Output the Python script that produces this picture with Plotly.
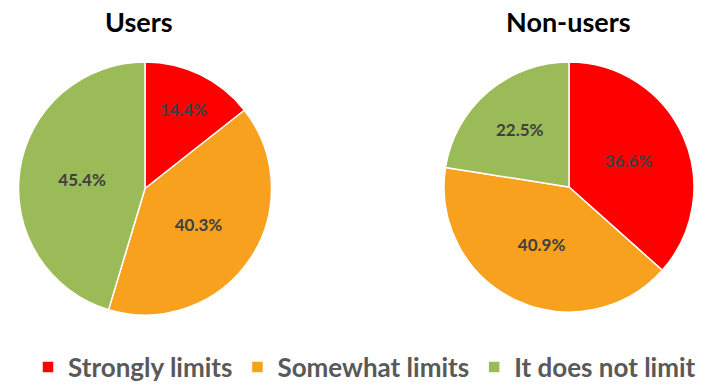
import plotly.graph_objects as go

categories = ["Strongly limits", "Somewhat limits", "It does not limit"]
users_values = [14.4, 40.3, 45.4]
nonusers_values = [36.6, 40.9, 22.5]
titles = ["Users", "Non-users"]
colors = ["#FF0000", "#F7A11F", "#9BBB59"]

W, H = 701, 384
def dom(x0, x1, y0, y1):
    return dict(x=[x0 / W, x1 / W], y=[1 - y1 / H, 1 - y0 / H])

label_font = dict(family="Lato", size=17, color="#404040", weight="bold")

fig = go.Figure()
fig.add_trace(go.Pie(
    labels=categories, values=users_values, sort=False, direction="clockwise",
    rotation=0, marker=dict(colors=colors, line=dict(color="white", width=1.5)),
    texttemplate="%{value:.1f}%", textposition="inside", insidetextorientation="horizontal",
    textfont=label_font,
    domain=dom(18, 272, 62, 315), hoverinfo="label+value", showlegend=True,
))
fig.add_trace(go.Pie(
    labels=categories, values=nonusers_values, sort=False, direction="clockwise",
    rotation=0, marker=dict(colors=colors, line=dict(color="white", width=1.5)),
    texttemplate="%{value:.1f}%", textposition="inside", insidetextorientation="horizontal",
    textfont=label_font,
    domain=dom(444, 694, 62, 312), hoverinfo="label+value", showlegend=False,
))

fig.add_annotation(x=139 / W, y=1 - 22 / H, xref="paper", yref="paper", text="<b>" + titles[0] + "</b>",
                   showarrow=False, xanchor="center", yanchor="middle",
                   font=dict(family="Lato", size=27, color="#000000"))
fig.add_annotation(x=568 / W, y=1 - 22 / H, xref="paper", yref="paper", text="<b>" + titles[1] + "</b>",
                   showarrow=False, xanchor="center", yanchor="middle",
                   font=dict(family="Lato", size=27, color="#000000"))

fig.update_layout(
    width=W, height=H, margin=dict(l=0, r=0, t=0, b=0, autoexpand=False),
    paper_bgcolor="white", plot_bgcolor="white",
    legend=dict(orientation="h", x=0.52, xanchor="center", y=1 - 367 / H, yanchor="middle",
                font=dict(family="Lato", size=26, color="#595959", weight="bold"),
                itemwidth=30, tracegroupgap=0),
)
fig.write_html("out.html")
